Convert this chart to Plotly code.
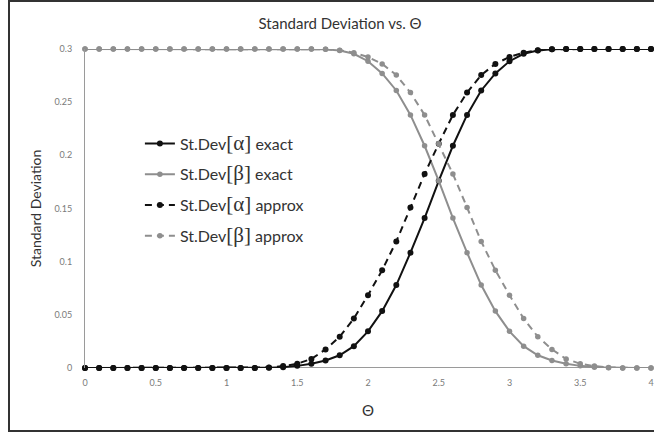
import plotly.graph_objects as go

theta = [0.0, 0.1, 0.2, 0.3, 0.4, 0.5, 0.6, 0.7, 0.8, 0.9,
         1.0, 1.1, 1.2, 1.3, 1.4, 1.5, 1.6, 1.7, 1.8, 1.9,
         2.0, 2.1, 2.2, 2.3, 2.4, 2.5, 2.6, 2.7, 2.8, 2.9,
         3.0, 3.1, 3.2, 3.3, 3.4, 3.5, 3.6, 3.7, 3.8, 3.9, 4.0]

sd_alpha_exact = [0, 0, 0, 0, 0, 0, 0, 0, 0, 0,
                  0, 0, 0, 0.0003, 0.0008, 0.002, 0.004, 0.007, 0.012, 0.0205,
                  0.0345, 0.0535, 0.078, 0.1085, 0.141, 0.176, 0.209, 0.238, 0.261, 0.277,
                  0.2885, 0.2955, 0.2985, 0.2997, 0.3, 0.3, 0.3, 0.3, 0.3, 0.3, 0.3]

sd_beta_exact = [0.3, 0.3, 0.3, 0.3, 0.3, 0.3, 0.3, 0.3, 0.3, 0.3,
                 0.3, 0.3, 0.3, 0.3, 0.3, 0.3, 0.3, 0.2997, 0.2985, 0.2955,
                 0.2885, 0.277, 0.261, 0.238, 0.209, 0.176, 0.141, 0.1085, 0.078, 0.0535,
                 0.0345, 0.0205, 0.012, 0.007, 0.004, 0.002, 0.0008, 0.0003, 0, 0, 0]

sd_alpha_approx = [0, 0, 0, 0, 0, 0, 0, 0, 0, 0,
                   0, 0, 0, 0.0005, 0.0018, 0.004, 0.0085, 0.0175, 0.0295, 0.0465,
                   0.0685, 0.092, 0.119, 0.151, 0.1825, 0.211, 0.238, 0.259, 0.2755, 0.286,
                   0.2925, 0.2965, 0.2988, 0.2997, 0.3, 0.3, 0.3, 0.3, 0.3, 0.3, 0.3]

sd_beta_approx = [0.3, 0.3, 0.3, 0.3, 0.3, 0.3, 0.3, 0.3, 0.3, 0.3,
                  0.3, 0.3, 0.3, 0.3, 0.3, 0.3, 0.3, 0.2997, 0.2988, 0.2965,
                  0.2925, 0.286, 0.2755, 0.259, 0.238, 0.211, 0.1825, 0.151, 0.119, 0.092,
                  0.0685, 0.0465, 0.0295, 0.0175, 0.0085, 0.004, 0.0018, 0.0005, 0, 0, 0]

x_ticks = [0, 0.5, 1, 1.5, 2, 2.5, 3, 3.5, 4]
x_tick_labels = ["0", "0.5", "1", "1.5", "2", "2.5", "3", "3.5", "4"]
y_ticks = [0, 0.05, 0.1, 0.15, 0.2, 0.25, 0.3]
y_tick_labels = ["0", "0.05", "0.1", "0.15", "0.2", "0.25", "0.3"]

BLACK = "#111111"
GRAY = "#8e8e8e"
GREEK = "<span style='font-family:Liberation Serif;font-size:21px'>[{}]</span>"

series = [
    ("St.Dev" + GREEK.format("α") + " exact", sd_alpha_exact, BLACK, "solid", 6),
    ("St.Dev" + GREEK.format("β") + " exact", sd_beta_exact, GRAY, "solid", 5.5),
    ("St.Dev" + GREEK.format("α") + " approx", sd_alpha_approx, BLACK, "7px,5px", 6),
    ("St.Dev" + GREEK.format("β") + " approx", sd_beta_approx, GRAY, "7px,5px", 5.5),
]

fig = go.Figure()
for i, (name, vals, color, dash, msize) in enumerate(series):
    fig.add_trace(go.Scatter(
        x=theta, y=vals, name=name, mode="lines+markers",
        line=dict(color=color, width=2, dash=dash),
        marker=dict(color=color, size=msize),
        legendgroup="g%d" % i,
        cliponaxis=False,
    ))

fig.update_layout(
    width=654, height=434,
    margin=dict(l=85, r=3, t=49, b=66, autoexpand=False),
    paper_bgcolor="white", plot_bgcolor="white",
    font=dict(family="Lato, Open Sans, sans-serif", color="#404040"),
    title=dict(text="Standard Deviation vs. Θ", x=0.52, xanchor="center",
               y=0.945, yanchor="middle", font=dict(size=15, color="#333333")),
    showlegend=True,
    legend=dict(x=0.097, y=0.757, xanchor="left", yanchor="top",
                bgcolor="rgba(0,0,0,0)", traceorder="grouped", tracegroupgap=7,
                font=dict(size=16, color="#333333")),
    xaxis=dict(range=[0, 4], tickvals=x_ticks, ticktext=x_tick_labels,
               showgrid=False, zeroline=False, showline=False, automargin=False,
               ticks="", ticklabelstandoff=8,
               tickfont=dict(size=9, color="#7a7a7a"),
               title=dict(text="Θ", font=dict(size=15, color="#333333"), standoff=18)),
    yaxis=dict(range=[0, 0.3], tickvals=y_ticks, ticktext=y_tick_labels,
               showgrid=False, zeroline=False, showline=True, linecolor="#9a9a9a", linewidth=1,
               automargin=False,
               ticks="", ticklabelstandoff=10,
               tickfont=dict(size=9, color="#7a7a7a"),
               title=dict(text="Standard Deviation", font=dict(size=14, color="#333333"), standoff=9)),
    shapes=[
        dict(type="line", xref="x", yref="y", x0=0, x1=4, y0=0, y1=0,
             line=dict(color="#9a9a9a", width=2), layer="below"),
        dict(type="rect", xref="paper", yref="paper",
             x0=(9 - 85) / 566, x1=(700 - 85) / 566,
             y0=(368 - 431) / 319, y1=(368 - 1) / 319,
             line=dict(color="#333333", width=2), fillcolor="rgba(0,0,0,0)", layer="below"),
    ],
)

fig.write_html("out.html", config={"displayModeBar": False},
               post_script="document.body.style.margin='0';")
